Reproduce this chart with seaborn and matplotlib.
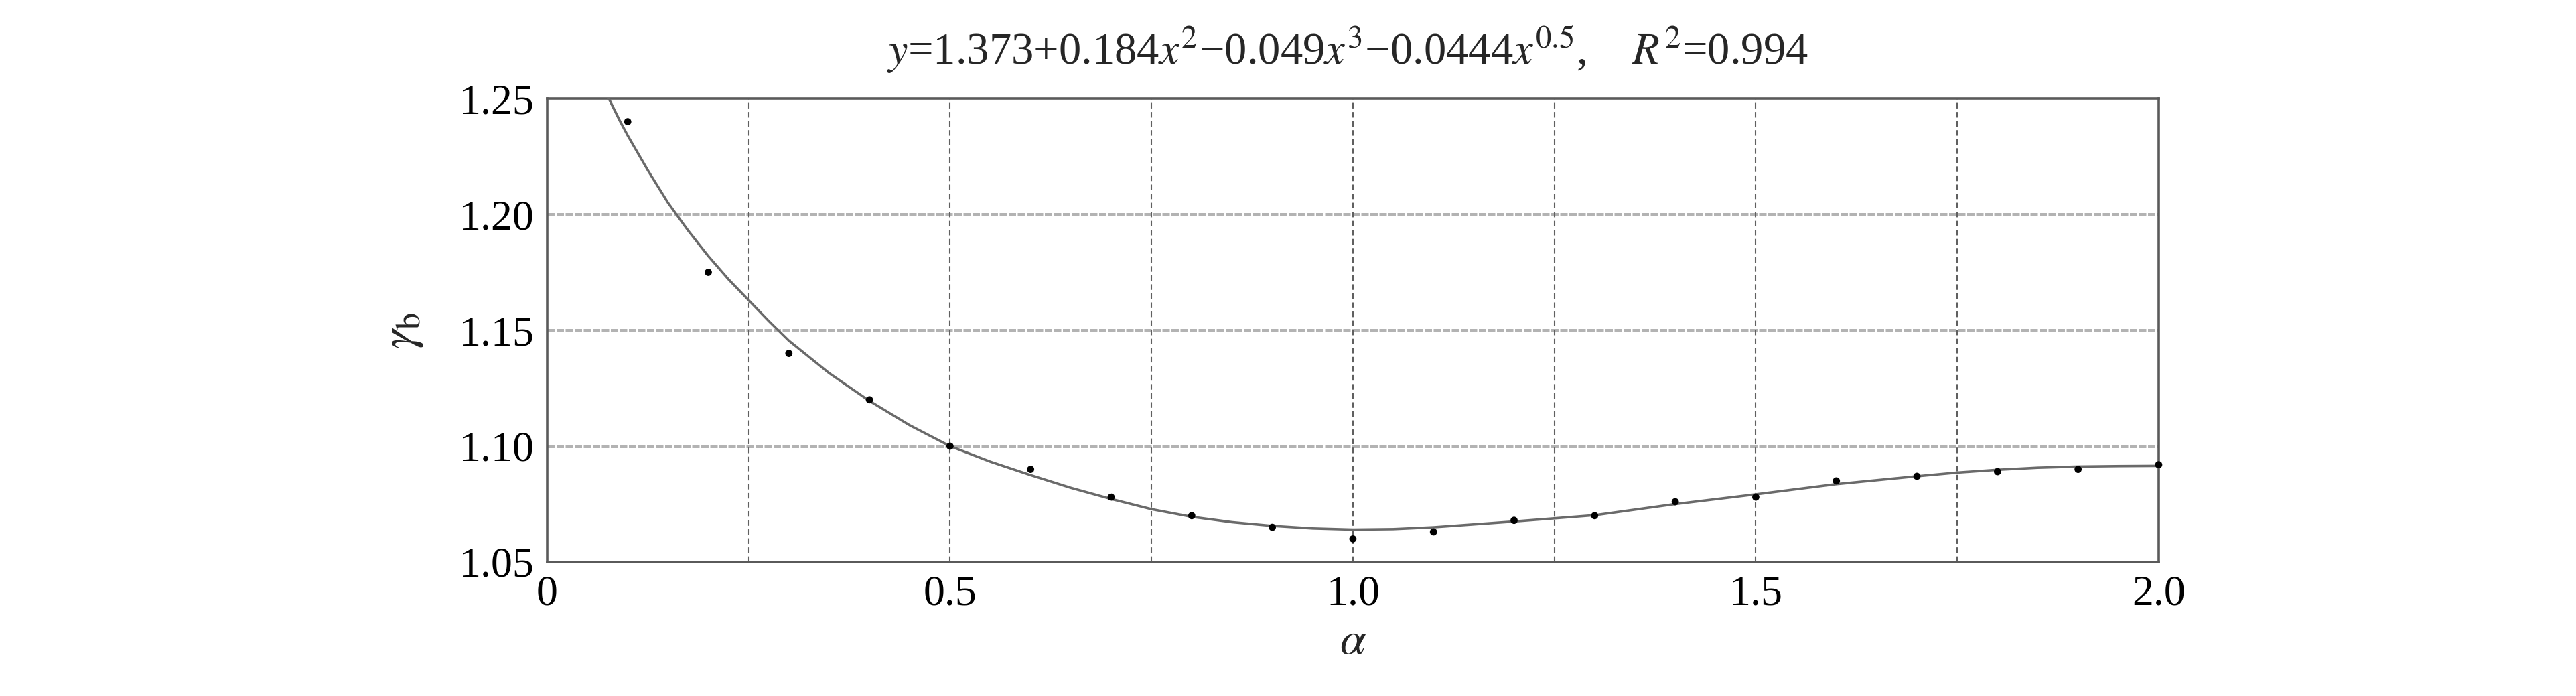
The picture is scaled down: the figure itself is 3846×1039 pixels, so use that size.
import numpy as np
import pandas as pd
import matplotlib
matplotlib.use("Agg")
import matplotlib.pyplot as plt
import seaborn as sns

# measured data points
alpha_pts = [0.1, 0.2, 0.3, 0.4, 0.5, 0.6, 0.7, 0.8, 0.9, 1.0,
             1.1, 1.2, 1.3, 1.4, 1.5, 1.6, 1.7, 1.8, 1.9, 2.0]
gamma_pts = [1.240, 1.175, 1.140, 1.120, 1.100, 1.090, 1.078, 1.070, 1.065, 1.060,
             1.063, 1.068, 1.070, 1.076, 1.078, 1.085, 1.087, 1.089, 1.090, 1.092]

# fitted curve
alpha_fit = [0.0765, 0.09, 0.10, 0.125, 0.15, 0.175, 0.20, 0.225, 0.25, 0.275, 0.30, 0.35, 0.40, 0.45, 0.50,
             0.55, 0.60, 0.65, 0.70, 0.75, 0.80, 0.85, 0.90, 0.95, 1.00, 1.05, 1.10,
             1.20, 1.30, 1.40, 1.50, 1.60, 1.70, 1.75, 1.80, 1.85, 1.90, 1.95, 2.00]
gamma_fit = [1.250, 1.2405, 1.234, 1.219, 1.205, 1.193, 1.182, 1.172, 1.163, 1.154, 1.1455, 1.1315, 1.1195, 1.109, 1.100,
             1.0933, 1.0875, 1.082, 1.0772, 1.0728, 1.0695, 1.0672, 1.0656, 1.0645, 1.0640, 1.0642, 1.0650,
             1.0675, 1.0702, 1.0750, 1.0792, 1.0836, 1.0870, 1.0886, 1.0898, 1.0907, 1.0912, 1.0914, 1.0915]

x_ticks = [0, 0.5, 1.0, 1.5, 2.0]
x_tick_labels = ["0", "0.5", "1.0", "1.5", "2.0"]
y_ticks = [1.05, 1.10, 1.15, 1.20, 1.25]
y_tick_labels = ["1.05", "1.10", "1.15", "1.20", "1.25"]
x_minor_grid = [0.25, 0.75, 1.25, 1.75]

title_text = r"$y$=1.373+0.184$x^{2}$−0.049$x^{3}$−0.0444$x^{0.5}$,    $R^{2}$=0.994"

sns.set_theme(style="white")
plt.rcParams["font.family"] = ["Liberation Serif", "DejaVu Serif"]
plt.rcParams["mathtext.fontset"] = "stix"

fig = plt.figure(figsize=(38.46, 10.39), dpi=100)
ax = fig.add_axes([0.2124, 0.1925, 0.838 - 0.2124, 0.8585 - 0.1925])

df_pts = pd.DataFrame({"alpha": alpha_pts, "gamma": gamma_pts})
df_fit = pd.DataFrame({"alpha": alpha_fit, "gamma": gamma_fit})

sns.lineplot(data=df_fit, x="alpha", y="gamma", ax=ax, color="#6a6a6a", linewidth=2.6,
             zorder=3, sort=True)
sns.scatterplot(data=df_pts, x="alpha", y="gamma", ax=ax, color="black", s=60,
                edgecolor="none", zorder=4, clip_on=False)

ax.set_xlim(0, 2.0)
ax.set_ylim(1.05, 1.25)
ax.set_xticks(x_ticks)
ax.set_xticklabels(x_tick_labels)
ax.set_yticks(y_ticks)
ax.set_yticklabels(y_tick_labels)
ax.tick_params(axis="both", length=0, labelsize=46, colors="black", pad=14)

# grid
for yv in y_ticks[1:-1]:
    ax.axhline(yv, color="#b3b3b3", linewidth=3.6, linestyle=(0, (2.2, 0.5)), zorder=1)
for xv in x_ticks[1:-1] + x_minor_grid:
    ax.axvline(xv, color="#606060", linewidth=1.5, linestyle=(0, (4, 2.5)), zorder=1)

for sp in ax.spines.values():
    sp.set_color("#5a5a5a")
    sp.set_linewidth(2.6)

ax.set_xlabel(r"$\alpha$", fontsize=50, labelpad=8)
ax.set_ylabel(r"$\gamma_{\mathrm{b}}$", fontsize=52, labelpad=36)

fig.text(0.523, 1 - 74 / 1039, title_text, ha="center", va="center", fontsize=48)

fig.savefig("out.png", dpi=100, facecolor="white")
